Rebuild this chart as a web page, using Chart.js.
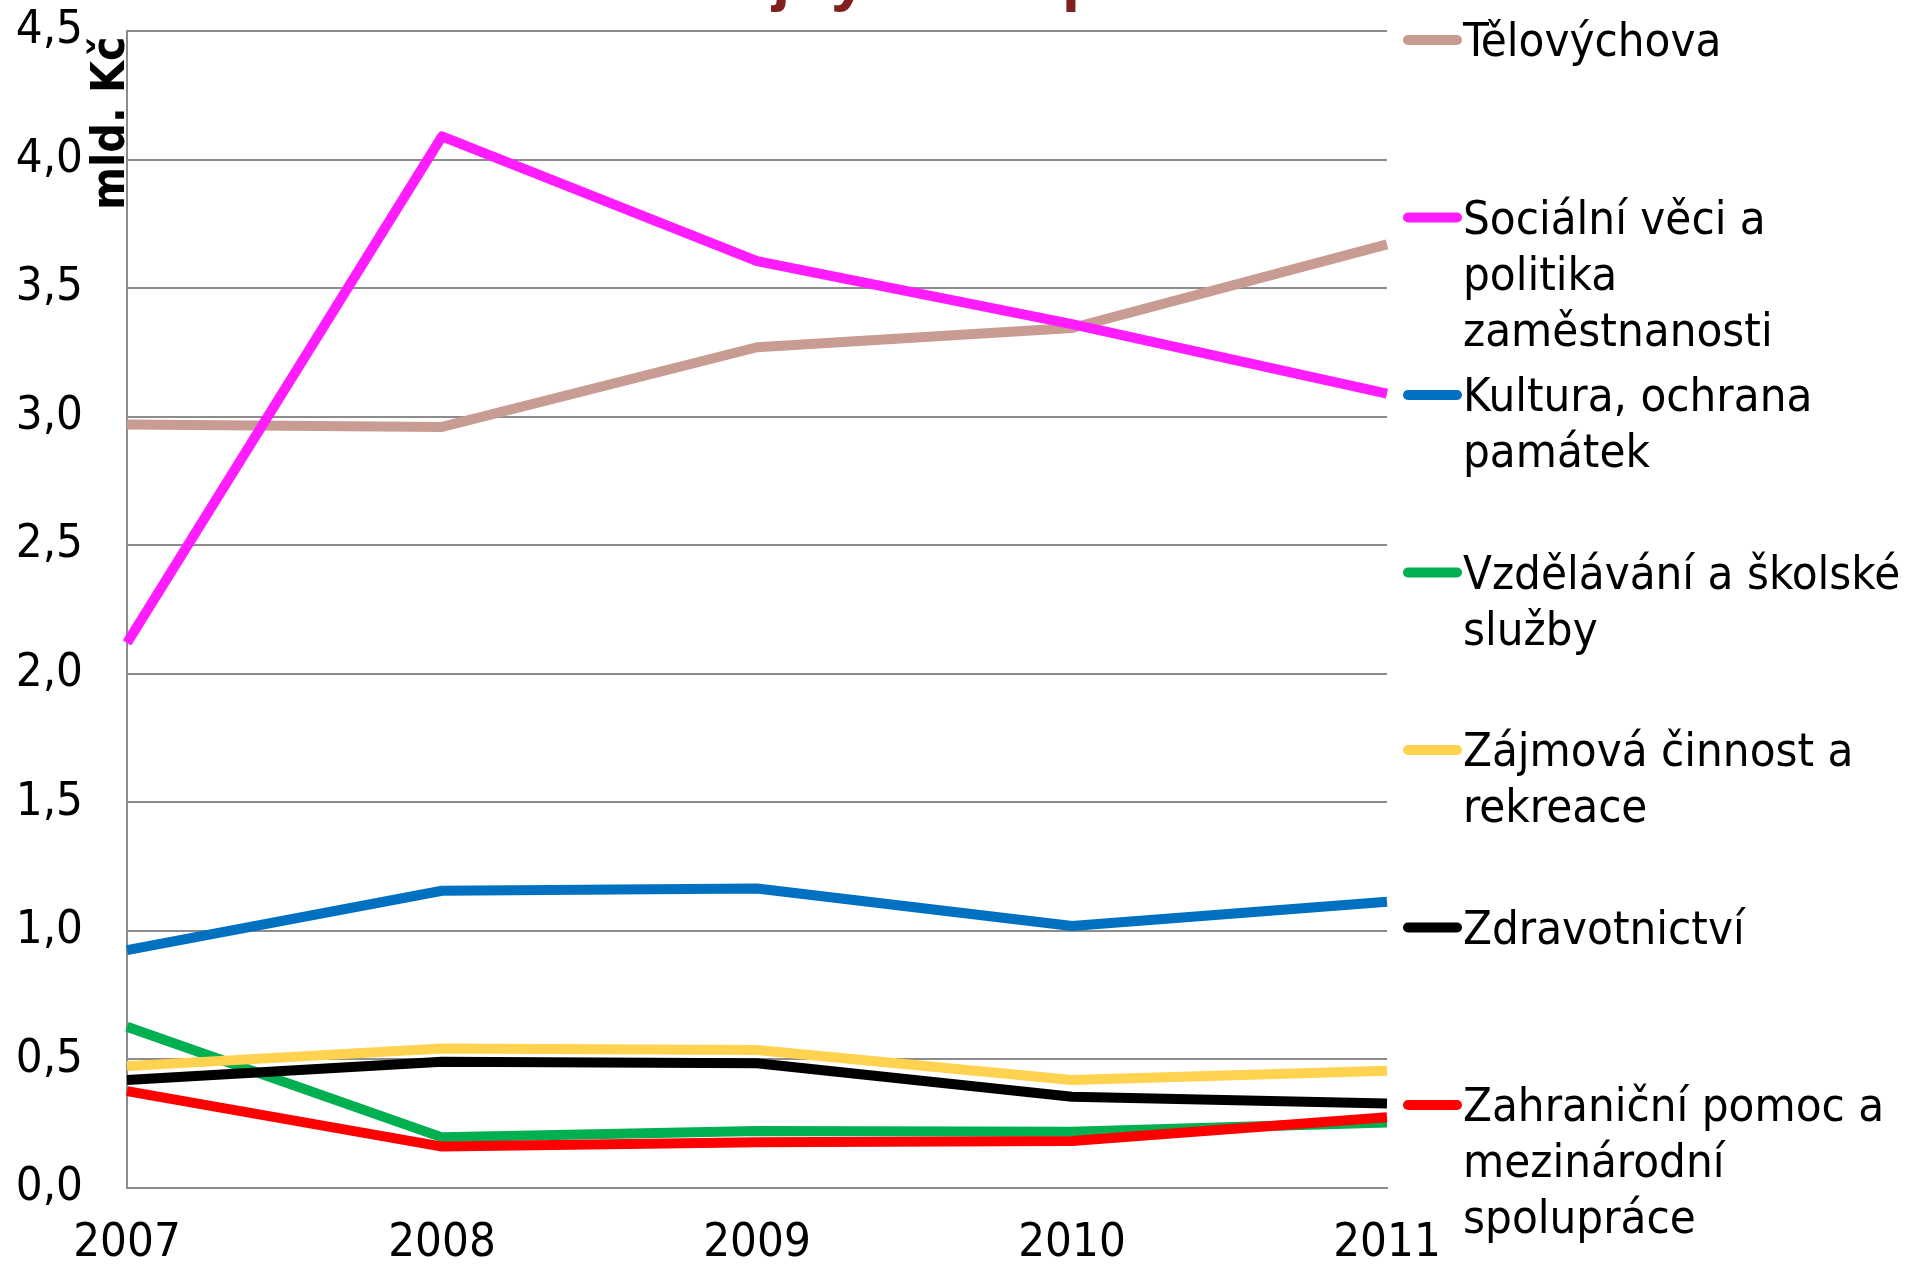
<!DOCTYPE html>
<html>
<head>
<meta charset="utf-8">
<script src="https://cdn.jsdelivr.net/npm/chart.js@4.4.0/dist/chart.umd.min.js"></script>
<style>
  body { margin: 0; background: #fff; }
  #wrap { width: 1910px; height: 1265px; }
</style>
</head>
<body>
<div id="wrap"><canvas id="chart" width="1910" height="1265"></canvas></div>
<script>
// data (mld. Kč)
const years = ['2007', '2008', '2009', '2010', '2011'];
const yTickLabels = ['0,0', '0,5', '1,0', '1,5', '2,0', '2,5', '3,0', '3,5', '4,0', '4,5'];

const telovychova = [2.97, 2.96, 3.27, 3.345, 3.67];
const socialniVeci = [2.12, 4.09, 3.605, 3.36, 3.09];
const kultura = [0.925, 1.156, 1.165, 1.019, 1.113];
const vzdelavani = [0.627, 0.197, 0.222, 0.219, 0.255];
const zajmovaCinnost = [0.474, 0.543, 0.537, 0.42, 0.456];
const zdravotnictvi = [0.42, 0.491, 0.485, 0.355, 0.329];
const zahranicniPomoc = [0.377, 0.161, 0.178, 0.183, 0.275];

const seriesLabels = [
    ['Tělovýchova'],
    ['Sociální věci a', 'politika', 'zaměstnanosti'],
    ['Kultura, ochrana', 'památek'],
    ['Vzdělávání a školské', 'služby'],
    ['Zájmová činnost a', 'rekreace'],
    ['Zdravotnictví'],
    ['Zahraniční pomoc a', 'mezinárodní', 'spolupráce']
];
const seriesData = [telovychova, socialniVeci, kultura, vzdelavani, zajmovaCinnost, zdravotnictvi, zahranicniPomoc];
const seriesColors = ['#C89B93', '#FF1CFF', '#0070C0', '#00B050', '#FFD24F', '#000000', '#FF0000'];

const FONT = '"DejaVu Sans Condensed", "Liberation Sans", sans-serif';

// legend, axis title and the cut-off title drawn by hand
const extrasPlugin = {
    id: 'extras',
    afterDraw(chart) {
        const ctx = chart.ctx;
        ctx.save();

        // legend on the right, one slot per series
        ctx.font = '47px ' + FONT;
        ctx.textAlign = 'left';
        ctx.textBaseline = 'alphabetic';
        chart.data.datasets.forEach((ds, i) => {
            const y = 40 + i * 177.5;
            ctx.strokeStyle = ds.borderColor;
            ctx.lineWidth = 10;
            ctx.lineCap = 'round';
            ctx.beginPath();
            ctx.moveTo(1408, y);
            ctx.lineTo(1457, y);
            ctx.stroke();
            ctx.fillStyle = '#000';
            seriesLabels[i].forEach((line, j) => {
                ctx.fillText(line, 1463, y + 16 + j * 56);
            });
        });

        // y axis title, rotated, sits between tick labels and axis
        ctx.save();
        ctx.translate(124, 210);
        ctx.rotate(-Math.PI / 2);
        ctx.font = 'bold 46px ' + FONT;
        ctx.fillStyle = '#000';
        ctx.textBaseline = 'alphabetic';
        ctx.fillText('mld. Kč', 0, 0);
        ctx.restore();

        // chart title, almost entirely above the picture
        ctx.font = 'bold 66px "Liberation Sans", sans-serif';
        ctx.fillStyle = '#7F1F1F';
        ctx.textAlign = 'left';
        ctx.textBaseline = 'alphabetic';
        const prefix = 'Dotace z veře';
        const x0 = 772 - ctx.measureText(prefix).width;
        ctx.fillText('Dotace z veřejných rozpočtů', x0, -2);

        ctx.restore();
    }
};

const ctx = document.getElementById('chart').getContext('2d');
new Chart(ctx, {
    type: 'line',
    data: {
        labels: years,
        datasets: seriesData.map((values, i) => ({
            label: seriesLabels[i].join(' '),
            data: values,
            borderColor: seriesColors[i],
            backgroundColor: seriesColors[i],
            borderWidth: 10,
            borderJoinStyle: 'round',
            pointRadius: 0,
            tension: 0,
            order: seriesData.length - i
        }))
    },
    options: {
        responsive: false,
        animation: false,
        devicePixelRatio: 1,
        layout: { padding: { top: 31, right: 523, left: 0, bottom: 0 } },
        plugins: {
            legend: { display: false },
            tooltip: { enabled: false },
            title: { display: false }
        },
        scales: {
            x: {
                offset: false,
                grid: { display: false, drawTicks: false },
                border: { display: true, color: '#8C8C8C', width: 2 },
                ticks: {
                    color: '#000',
                    font: { family: FONT, size: 47 },
                    padding: 28,
                    maxRotation: 0,
                    autoSkip: false
                },
                afterFit: scale => {
                    scale.height = 77;
                    scale.paddingLeft = 0;
                    scale.paddingRight = 0;
                }
            },
            y: {
                min: 0,
                max: 4.5,
                grid: { color: '#8C8C8C', lineWidth: 2, drawTicks: false },
                border: { display: true, color: '#8C8C8C', width: 2 },
                ticks: {
                    stepSize: 0.5,
                    color: '#000',
                    font: { family: FONT, size: 47 },
                    padding: 44,
                    callback: (value, index) => yTickLabels[index]
                },
                afterFit: scale => {
                    scale.width = 127;
                    scale.paddingTop = 0;
                    scale.paddingBottom = 0;
                }
            }
        }
    },
    plugins: [extrasPlugin]
});
</script>
</body>
</html>
